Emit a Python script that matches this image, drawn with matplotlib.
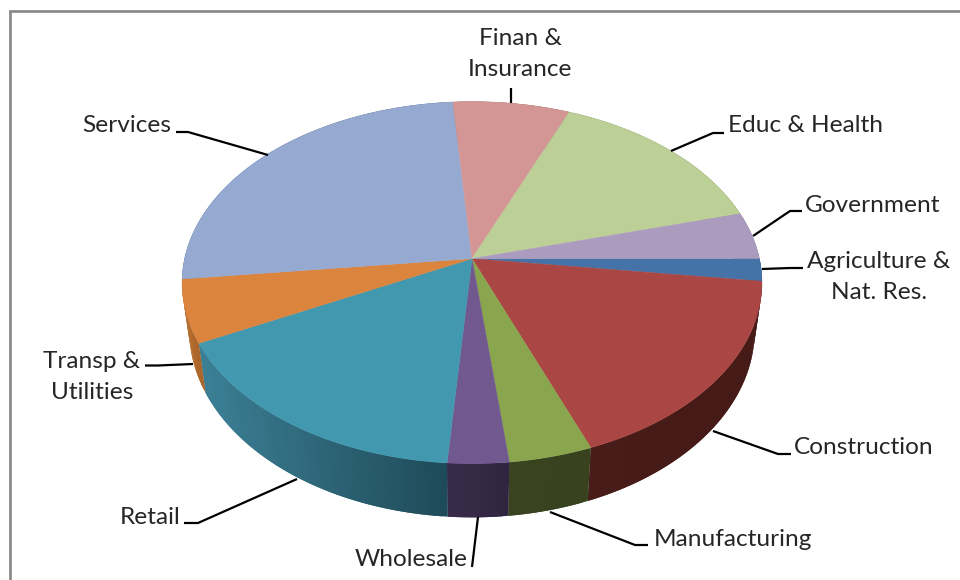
import numpy as np
import matplotlib
matplotlib.use("Agg")
import matplotlib.pyplot as plt
from matplotlib.collections import PolyCollection
from matplotlib.colors import to_rgb

# Employment share by sector, clockwise from the 3 o'clock position
sectors = ["Agriculture", "Construction", "Manufacturing", "Wholesale", "Retail",
           "Transp", "Services", "Finan", "Educ", "Government"]
shares = [2.0, 17.1, 4.1, 3.0, 16.4, 5.6, 25.6, 7.4, 14.6, 4.2]
top_colors = ["#4573A7", "#AA4644", "#89A54E", "#71588F", "#4198AF",
              "#DB843D", "#95A9D1", "#D49695", "#BBCF97", "#AB9BBE"]
side_left = ["#2c4a6c", "#481c18", "#39431f", "#3a2c4a", "#3c8096",
             "#b9702f", "#5f6d87", "#8a6160", "#798662", "#6f647b"]
side_right = ["#2c4a6c", "#451a17", "#38421e", "#2f2540", "#1e4a58",
              "#a8642a", "#5f6d87", "#8a6160", "#798662", "#6f647b"]

labels = ["Agriculture &\nNat. Res.", "Construction", "Manufacturing", "Wholesale", "Retail",
          "Transp &\nUtilities", "Services", "Finan &\nInsurance", "Educ & Health", "Government"]
label_xy = [(879, 277), (864, 447), (733, 540), (411, 559), (150, 517),
            (92, 377), (127, 125), (520, 54), (806, 126), (873, 205)]
leaders = [
    [(762, 269), (790, 268), (803, 268)],
    [(713, 431), (778, 454), (791, 454)],
    [(550, 512), (635, 545), (648, 545)],
    [(478, 517), (472, 567)],
    [(297, 479), (198, 523), (184, 523)],
    [(193, 364), (158, 365.5), (145, 365.5)],
    [(268, 155), (188, 132), (176, 132)],
    [(511, 103), (511, 88)],
    [(671, 151), (713, 133), (724, 133)],
    [(753, 236), (790, 211), (802, 211)],
]

# Perspective view of the disc
CX, CY = 472.0, 258.6
A, B, K = 287.4, 177.8, 0.1326
BASE_SCALE_X, BASE_SCALE_Y, BASE_DROP = 0.975, 1.033, 47.0


def rim(theta):
    """Top-face rim point for clockwise angle theta (radians)."""
    u, v = np.cos(theta), -np.sin(theta)
    w = 1 + K * v
    return CX + A * u / w, CY - B * v / w


def base(theta):
    """Matching point on the lower edge of the side wall."""
    x, y = rim(theta)
    return CX + BASE_SCALE_X * (x - CX), CY + BASE_SCALE_Y * (y - CY) + BASE_DROP


fig = plt.figure(figsize=(9.6, 5.8), dpi=100)
ax = fig.add_axes([0, 0, 1, 1])
ax.set_xlim(0, 960)
ax.set_ylim(580, 0)
ax.axis("off")

# Chart frame: only the top and left edges fall inside the canvas
ax.plot([10, 10, 960], [580, 11, 11], color="#868686", lw=1.9, solid_joinstyle="miter", zorder=1)

edges = np.deg2rad(np.concatenate([[0], np.cumsum(shares) / np.sum(shares) * 360]))

# Side wall: overlapping strips for the left-to-right shading, drawn from the right
for i in range(len(shares)):
    t0, t1 = edges[i], edges[i + 1]
    ts = np.linspace(t0, t1, max(3, int(np.degrees(t1 - t0)) + 1))
    xs = np.array([rim(t)[0] for t in ts])
    span = max(xs.max() - xs.min(), 1)
    c0, c1 = np.array(to_rgb(side_left[i])), np.array(to_rgb(side_right[i]))
    polys, cols = [], []
    for j in range(len(ts) - 1):
        a = ts[j]
        b = ts[min(j + 2, len(ts) - 1)]
        sub = np.linspace(a, b, 8)
        polys.append([rim(t) for t in sub] + [base(t) for t in sub[::-1]])
        f = (0.5 * (rim(ts[j])[0] + rim(ts[j + 1])[0]) - xs.min()) / span
        cols.append(c0 + (c1 - c0) * f)
    ax.add_collection(PolyCollection(polys, facecolors=cols, edgecolors="none",
                                     linewidths=0.0, zorder=2 + i * 0.01))

# Top face
for i in range(len(shares)):
    ts = np.linspace(edges[i], edges[i + 1], 120)
    pts = [(CX, CY)] + [rim(t) for t in ts]
    ax.fill(*zip(*pts), facecolor=top_colors[i], edgecolor=top_colors[i], lw=0.3, zorder=3)

# Leader lines and category labels
for pts, text, (x, y) in zip(leaders, labels, label_xy):
    ax.plot(*zip(*pts), color="black", lw=1.6, zorder=4, solid_capstyle="butt")
    ax.text(x, y, text, ha="center", va="center", family="Lato", fontsize=17.6,
            color="#262626", linespacing=1.6, zorder=5)

fig.savefig("out.png", dpi=100)
